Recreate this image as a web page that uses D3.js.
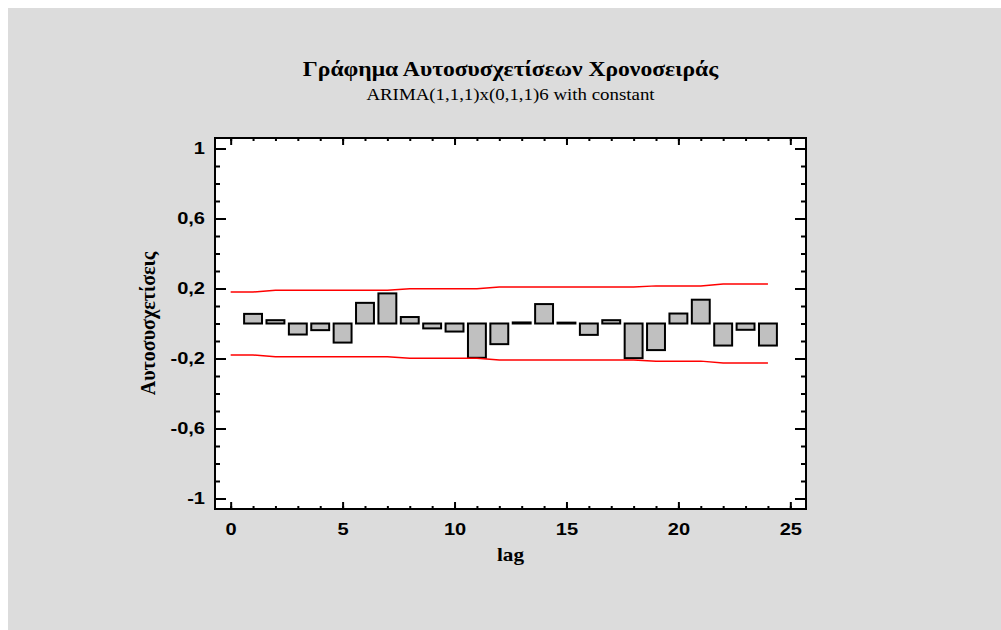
<!DOCTYPE html>
<html>
<head>
<meta charset="utf-8">
<script src="https://cdn.jsdelivr.net/npm/d3@7"></script>
<style>
  body { margin: 0; background: #fff; }
  svg { display: block; }
</style>
</head>
<body>
<div class="chart"></div>
<script>
// autocorrelation estimates for lags 1..24
var lags = d3.range(1, 25);
var acf = [0.055, 0.019, -0.063, -0.038, -0.109, 0.118, 0.172, 0.037,
  -0.028, -0.046, -0.196, -0.118, 0.006, 0.111, 0.005, -0.065,
  0.019, -0.198, -0.152, 0.057, 0.136, -0.126, -0.036, -0.126];
// probability limits at lags 0..24
var limitLags = d3.range(0, 25);
var limits = [0.18, 0.18, 0.19, 0.19, 0.19, 0.19, 0.19, 0.19, 0.198,
  0.198, 0.198, 0.198, 0.208, 0.208, 0.208, 0.208, 0.208, 0.208, 0.208,
  0.215, 0.215, 0.215, 0.226, 0.226, 0.226];
var yTicks = [-1, -0.6, -0.2, 0.2, 0.6, 1];
var xTicks = [0, 5, 10, 15, 20, 25];

var title = "Γράφημα Αυτοσυσχετίσεων Χρονοσειράς";
var subtitle = "ARIMA(1,1,1)x(0,1,1)6 with constant";
var xTitle = "lag";
var yTitle = "Αυτοσυσχετίσεις";

var svgWidth = 1001;
var svgHeight = 630;
var plot = { left: 215, right: 806, top: 138, bottom: 509 };
var sx = 1.18; // text in the original is a bit wide

var svg = d3.select(".chart")
  .append("svg")
  .attr("width", svgWidth)
  .attr("height", svgHeight);

svg.append("rect")
  .attr("x", 8).attr("y", 8)
  .attr("width", svgWidth - 8).attr("height", svgHeight - 8)
  .attr("fill", "#dcdcdc");

var x = d3.scaleLinear().domain([-0.7, 25.7]).range([plot.left, plot.right]);
var y = d3.scaleLinear().domain([-1.06, 1.06]).range([plot.bottom, plot.top]);

var locale = d3.formatLocale({ decimal: ",", thousands: ".", grouping: [3], currency: ["", ""], minus: "-" });
var fmt = locale.format("~g");

// stretch text horizontally around its anchor
function stretch(sel) {
  sel.each(function() {
    var t = d3.select(this);
    var ax = +t.attr("x") || 0;
    t.attr("transform", "translate(" + ax + ",0) scale(" + sx + ",1) translate(" + (-ax) + ",0)");
  });
}

svg.append("rect")
  .attr("x", plot.left).attr("y", plot.top)
  .attr("width", plot.right - plot.left).attr("height", plot.bottom - plot.top)
  .attr("fill", "#fff");

// minor ticks
var minorX = d3.range(0, 26);
var minorY = d3.range(-10, 11).map(d => d / 10);

svg.append("g").attr("transform", `translate(0,${plot.bottom})`)
  .call(d3.axisBottom(x).tickValues(minorX).tickSizeInner(-3).tickSizeOuter(0).tickFormat(""));
svg.append("g").attr("transform", `translate(0,${plot.top})`)
  .call(d3.axisTop(x).tickValues(minorX).tickSizeInner(-3).tickSizeOuter(0).tickFormat(""));
svg.append("g").attr("transform", `translate(${plot.left},0)`)
  .call(d3.axisLeft(y).tickValues(minorY).tickSizeInner(-5).tickSizeOuter(0).tickFormat(""));
svg.append("g").attr("transform", `translate(${plot.right},0)`)
  .call(d3.axisRight(y).tickValues(minorY).tickSizeInner(-5).tickSizeOuter(0).tickFormat(""));

// major ticks
var xAxis = svg.append("g").attr("transform", `translate(0,${plot.bottom})`)
  .call(d3.axisBottom(x).tickValues(xTicks).tickSizeInner(-7).tickSizeOuter(0).tickPadding(14).tickFormat(fmt));
svg.append("g").attr("transform", `translate(0,${plot.top})`)
  .call(d3.axisTop(x).tickValues(xTicks).tickSizeInner(-7).tickSizeOuter(0).tickFormat(""));
var yAxis = svg.append("g").attr("transform", `translate(${plot.left},0)`)
  .call(d3.axisLeft(y).tickValues(yTicks).tickSizeInner(-11).tickSizeOuter(0).tickPadding(10).tickFormat(fmt));
svg.append("g").attr("transform", `translate(${plot.right},0)`)
  .call(d3.axisRight(y).tickValues(yTicks).tickSizeInner(-11).tickSizeOuter(0).tickFormat(""));

svg.selectAll(".domain").remove();
svg.selectAll(".tick line").attr("stroke", "#000").attr("stroke-width", 2);

[xAxis, yAxis].forEach(function(a) {
  a.selectAll("text")
    .attr("font-family", "'Liberation Sans', Arial, sans-serif")
    .attr("font-weight", "bold")
    .attr("font-size", 17)
    .attr("fill", "#000")
    .call(stretch);
});

// bars
svg.append("g").selectAll("rect")
  .data(lags)
  .enter()
  .append("rect")
  .attr("x", d => x(d - 0.4))
  .attr("width", x(0.8) - x(0))
  .attr("y", (d, i) => y(Math.max(acf[i], 0)))
  .attr("height", (d, i) => Math.abs(y(acf[i]) - y(0)))
  .attr("fill", "#c0c0c0")
  .attr("stroke", "#000")
  .attr("stroke-width", 2);

// limits
var upper = d3.line().x(d => x(d)).y((d, i) => y(limits[i]));
var lower = d3.line().x(d => x(d)).y((d, i) => y(-limits[i]));
svg.append("path").datum(limitLags).attr("d", upper)
  .attr("fill", "none").attr("stroke", "#ff0000").attr("stroke-width", 1.5);
svg.append("path").datum(limitLags).attr("d", lower)
  .attr("fill", "none").attr("stroke", "#ff0000").attr("stroke-width", 1.5);

// frame
svg.append("rect")
  .attr("x", plot.left).attr("y", plot.top)
  .attr("width", plot.right - plot.left).attr("height", plot.bottom - plot.top)
  .attr("fill", "none").attr("stroke", "#000").attr("stroke-width", 2);

var cx = (plot.left + plot.right) / 2;
var serif = "'Liberation Serif', 'Times New Roman', serif";

svg.append("text")
  .attr("x", cx).attr("y", 76)
  .attr("text-anchor", "middle")
  .attr("font-family", serif).attr("font-weight", "bold").attr("font-size", 20)
  .text(title)
  .call(stretch);

svg.append("text")
  .attr("x", cx).attr("y", 100)
  .attr("text-anchor", "middle")
  .attr("font-family", serif).attr("font-size", 16)
  .text(subtitle)
  .call(stretch);

svg.append("text")
  .attr("x", cx).attr("y", 561)
  .attr("text-anchor", "middle")
  .attr("font-family", serif).attr("font-weight", "bold").attr("font-size", 18)
  .text(xTitle)
  .call(stretch);

svg.append("text")
  .attr("transform", `translate(155, ${(plot.top + plot.bottom) / 2}) scale(1.1,1) rotate(-90)`)
  .attr("text-anchor", "middle")
  .attr("font-family", serif).attr("font-weight", "bold").attr("font-size", 20)
  .text(yTitle);
</script>
</body>
</html>
